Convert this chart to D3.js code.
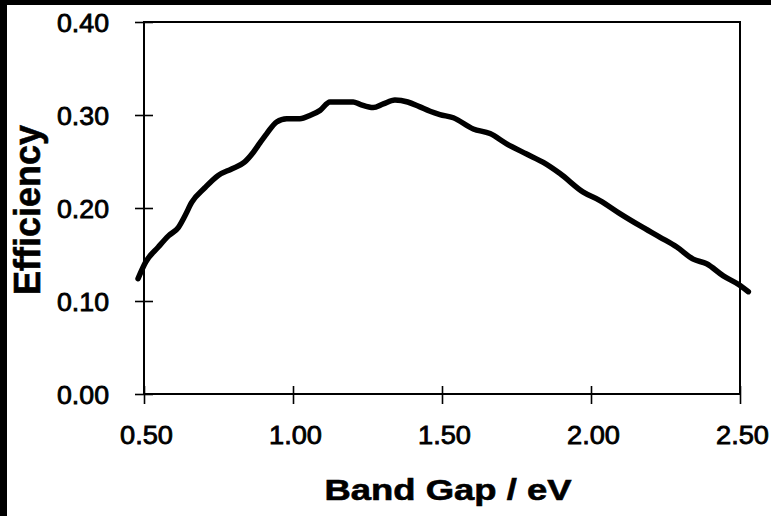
<!DOCTYPE html>
<html>
<head>
<meta charset="utf-8">
<script src="https://cdn.jsdelivr.net/npm/d3@7.9.0/dist/d3.min.js"></script>
<style>
  html, body { margin: 0; padding: 0; background: #fff; }
  svg { display: block; }
  text { font-family: "Liberation Sans", Arial, Helvetica, sans-serif; fill: #000; }
</style>
</head>
<body>
<div id="chart"></div>
<script>
// values
const bandGap = [0.48, 0.506, 0.548, 0.582, 0.615, 0.638, 0.66, 0.705, 0.749, 0.794, 0.836,
  0.867, 0.889, 0.912, 0.945, 0.979, 1.023, 1.06, 1.091, 1.124, 1.202, 1.225, 1.269,
  1.303, 1.342, 1.385, 1.424, 1.46, 1.493, 1.538, 1.605, 1.661, 1.717, 1.784, 1.84,
  1.896, 1.974, 2.03, 2.097, 2.164, 2.232, 2.288, 2.343, 2.388, 2.444, 2.494, 2.528];
const efficiency = [0.124, 0.142, 0.158, 0.170, 0.179, 0.192, 0.206, 0.222, 0.235, 0.242, 0.249,
  0.260, 0.270, 0.280, 0.2925, 0.296, 0.296, 0.300, 0.305, 0.314, 0.314, 0.3115, 0.308,
  0.312, 0.316, 0.314, 0.309, 0.304, 0.3005, 0.297, 0.285, 0.280, 0.269, 0.258, 0.249,
  0.237, 0.217, 0.208, 0.194, 0.181, 0.1685, 0.158, 0.145, 0.140, 0.127, 0.118, 0.110];
const xTicks = [0.5, 1.0, 1.5, 2.0, 2.5];
const yTicks = [0.0, 0.1, 0.2, 0.3, 0.4];

const width = 771, height = 516;
const margin = { left: 144, right: 31, top: 22, bottom: 122 };

const svg = d3.select('#chart').append('svg')
  .attr('width', width)
  .attr('height', height);

// scan border (black bands on the top and left edges)
svg.append('rect').attr('x', 0).attr('y', 0).attr('width', width).attr('height', 5).attr('fill', '#000');
svg.append('rect').attr('x', 0).attr('y', 0).attr('width', 7).attr('height', height).attr('fill', '#000');

const x = d3.scaleLinear().domain([0.5, 2.5]).range([margin.left, width - margin.right]);
const y = d3.scaleLinear().domain([0, 0.4]).range([height - margin.bottom, margin.top]);

// frame
svg.append('rect')
  .attr('x', x(0.5)).attr('y', y(0.4))
  .attr('width', x(2.5) - x(0.5)).attr('height', y(0) - y(0.4))
  .attr('fill', 'none').attr('stroke', '#000').attr('stroke-width', 2);

// left axis, ticks cross the line
const yAxis = svg.append('g')
  .attr('transform', `translate(${x(0.5)},0)`)
  .call(d3.axisLeft(y).tickValues(yTicks).tickFormat(d3.format('.2f')).tickSize(9).tickPadding(26));
yAxis.select('.domain').remove();
yAxis.selectAll('.tick line').attr('x1', 9).attr('x2', -9).attr('stroke-width', 1.6);
yAxis.selectAll('.tick text')
  .attr('font-size', 25)
  .style('font-family', '"Liberation Sans", Arial, sans-serif')
  .attr('stroke', '#000').attr('stroke-width', 0.8)
  .attr('textLength', 52)
  .attr('lengthAdjust', 'spacingAndGlyphs')
  .attr('dy', '0.36em');

// bottom axis
const xAxis = svg.append('g')
  .attr('transform', `translate(0,${y(0)})`)
  .call(d3.axisBottom(x).tickValues(xTicks).tickFormat(d3.format('.2f')).tickSize(10).tickPadding(22));
xAxis.select('.domain').remove();
xAxis.selectAll('.tick line').attr('y1', -8).attr('y2', 10).attr('stroke-width', 1.6);
xAxis.selectAll('.tick text')
  .attr('font-size', 25)
  .style('font-family', '"Liberation Sans", Arial, sans-serif')
  .attr('stroke', '#000').attr('stroke-width', 0.8)
  .attr('textLength', 53)
  .attr('lengthAdjust', 'spacingAndGlyphs')
  .attr('x', 2);

// curve
const pts = bandGap.map((d, i) => [d, efficiency[i]]);
const line = d3.line()
  .x(d => x(d[0]))
  .y(d => y(d[1]))
  .curve(d3.curveMonotoneX);

svg.append('path')
  .datum(pts)
  .attr('d', line)
  .attr('fill', 'none')
  .attr('stroke', '#000')
  .attr('stroke-width', 5.5)
  .attr('stroke-linejoin', 'round')
  .attr('stroke-linecap', 'round');

// axis titles
svg.append('text')
  .attr('transform', `translate(40,${(y(0) + y(0.4)) / 2 + 2}) rotate(-90)`)
  .attr('text-anchor', 'middle')
  .attr('font-size', 36)
  .attr('font-weight', 'bold')
  .attr('stroke', '#000').attr('stroke-width', 0.6)
  .text('Efficiency');

svg.append('text')
  .attr('x', 448)
  .attr('y', 500)
  .attr('text-anchor', 'middle')
  .attr('font-size', 29)
  .attr('font-weight', 'bold')
  .attr('stroke', '#000').attr('stroke-width', 0.6)
  .attr('textLength', 247)
  .attr('lengthAdjust', 'spacingAndGlyphs')
  .text('Band Gap / eV');
</script>
</body>
</html>
